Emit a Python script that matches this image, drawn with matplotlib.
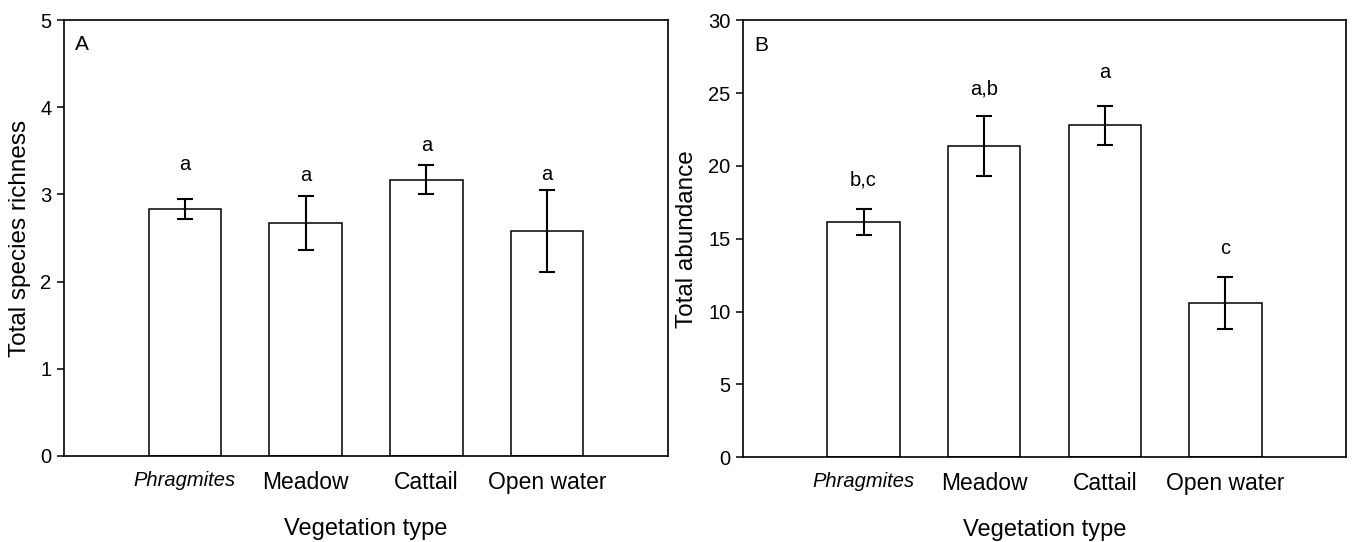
import matplotlib.pyplot as plt
import numpy as np

plt.rcParams['font.family'] = ['Liberation Sans', 'DejaVu Sans']

categories = ["Phragmites", "Meadow", "Cattail", "Open water"]

# panel A: total species richness
richness = [2.83, 2.67, 3.17, 2.58]
richness_se = [0.115, 0.31, 0.165, 0.47]
richness_letters = ["a", "a", "a", "a"]
richness_letter_y = [3.34, 3.22, 3.56, 3.23]

# panel B: total abundance
abundance = [16.13, 21.37, 22.8, 10.58]
abundance_se = [0.9, 2.08, 1.35, 1.8]
abundance_letters = ["b,c", "a,b", "a", "c"]
abundance_letter_y = [19.04, 25.3, 26.44, 14.32]


def draw_panel(ax, values, errs, letters, letter_y, ymax, step, ylabel, tag):
    x = np.arange(1, len(categories) + 1)
    ax.bar(x, values, width=0.6, color="white", edgecolor="black", linewidth=1.1)
    ax.errorbar(x, values, yerr=errs, fmt="none", ecolor="black",
                elinewidth=1.5, capsize=5.5, capthick=1.5)
    for xi, lab, ly in zip(x, letters, letter_y):
        ax.text(xi, ly, lab, ha="center", va="center", fontsize=14.5)
    ax.set_xlim(0, 5)
    ax.set_ylim(0, ymax)
    ax.set_yticks(np.arange(0, ymax + step / 2, step))
    ax.set_xticks(x)
    ax.set_xticklabels(categories, fontsize=16.5)
    ax.get_xticklabels()[0].set_fontstyle("italic")
    ax.get_xticklabels()[0].set_fontsize(14.5)
    ax.tick_params(axis="x", length=0, pad=11)
    ax.tick_params(axis="y", direction="out", length=5, width=1.1, labelsize=14.5, pad=4)
    for s in ax.spines.values():
        s.set_linewidth(1.2)
    ax.set_xlabel("Vegetation type", fontsize=17, labelpad=17)
    ax.set_ylabel(ylabel, fontsize=17.5, labelpad=7)
    ax.text(0.018, 0.965, tag, transform=ax.transAxes, ha="left", va="top", fontsize=15)


fig = plt.figure(figsize=(13.54, 5.42), dpi=100)
ax1 = fig.add_axes([0.0473, 0.1587, 0.446, 0.8043])
ax2 = fig.add_axes([0.5487, 0.1568, 0.4454, 0.8054])

draw_panel(ax1, richness, richness_se, richness_letters, richness_letter_y,
           5, 1, "Total species richness", "A")
draw_panel(ax2, abundance, abundance_se, abundance_letters, abundance_letter_y,
           30, 5, "Total abundance", "B")

plt.savefig("out.png", dpi=100)
